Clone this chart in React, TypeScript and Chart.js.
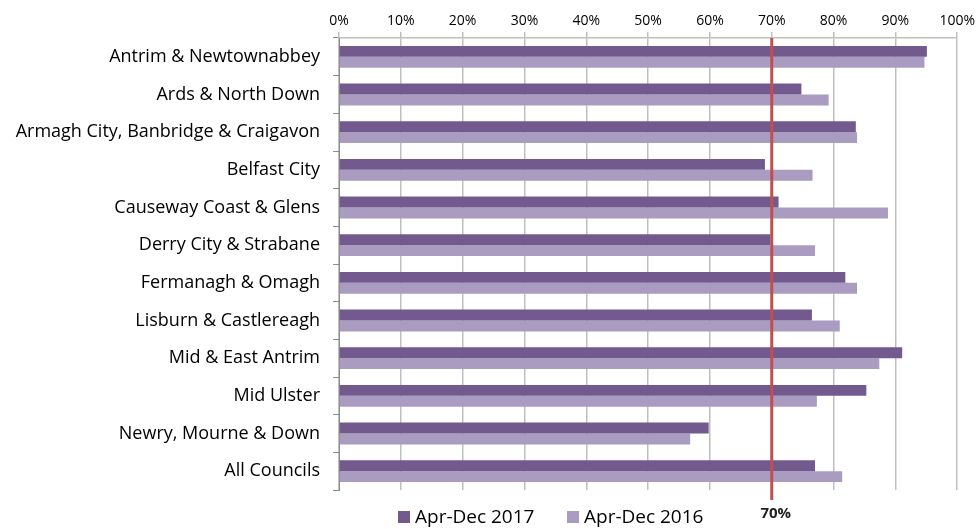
import React, { useEffect, useRef } from "react";
import { Chart, registerables } from "chart.js";

Chart.register(...registerables);

const categories = [
  "Antrim & Newtownabbey",
  "Ards & North Down",
  "Armagh City, Banbridge & Craigavon",
  "Belfast City",
  "Causeway Coast & Glens",
  "Derry City & Strabane",
  "Fermanagh & Omagh",
  "Lisburn & Castlereagh",
  "Mid & East Antrim",
  "Mid Ulster",
  "Newry, Mourne & Down",
  "All Councils",
];

const series2017 = [95.1, 74.8, 83.6, 68.9, 71.1, 69.8, 81.9, 76.5, 91.1, 85.3, 59.8, 77.0];
const series2016 = [94.7, 79.2, 83.8, 76.6, 88.8, 77.0, 83.8, 81.0, 87.4, 77.3, 56.8, 81.4];
const targetValue = 70;
const targetLabel = "70%";
const seriesLabels = ["Apr-Dec 2017", "Apr-Dec 2016"];

const DARK = "#725a8f";
const LIGHT = "#a99cc0";
const RED = "#c0504d";
const FONT = "'Open Sans', 'Noto Sans', sans-serif";

const overlayPlugin = {
  id: "overlay",
  afterDatasetsDraw(chart: any) {
    const { ctx, chartArea, scales } = chart;
    const x = scales.x.getPixelForValue(targetValue);
    ctx.save();
    ctx.strokeStyle = RED;
    ctx.lineWidth = 3;
    ctx.beginPath();
    ctx.moveTo(x, chartArea.top);
    ctx.lineTo(x, chartArea.bottom + 10);
    ctx.stroke();
    ctx.fillStyle = "#222";
    ctx.font = `bold 15px ${FONT}`;
    ctx.textAlign = "center";
    ctx.textBaseline = "middle";
    ctx.fillText(targetLabel, x + 4, 514);
    // legend
    const colors = [DARK, LIGHT];
    const starts = [398, 567];
    ctx.font = `19px ${FONT}`;
    ctx.textAlign = "left";
    for (let i = 0; i < 2; i++) {
      ctx.fillStyle = colors[i];
      ctx.fillRect(starts[i], 511, 12, 12);
      ctx.fillStyle = "#000";
      ctx.fillText(seriesLabels[i], starts[i] + 17, 518);
    }
    ctx.restore();
  },
};

export default function App() {
  const ref = useRef<HTMLCanvasElement>(null);
  useEffect(() => {
    if (!ref.current) return;
    const chart = new Chart(ref.current, {
      type: "bar",
      data: {
        labels: categories,
        datasets: [
          {
            label: seriesLabels[0],
            data: series2017,
            backgroundColor: DARK,
            categoryPercentage: 0.58,
            barPercentage: 1.0,
          },
          {
            label: seriesLabels[1],
            data: series2016,
            backgroundColor: LIGHT,
            categoryPercentage: 0.58,
            barPercentage: 1.0,
          },
        ],
      },
      options: {
        indexAxis: "y",
        animation: false,
        responsive: false,
        maintainAspectRatio: false,
        layout: { padding: { left: 0, right: 18, top: 0, bottom: 39 } },
        plugins: {
          legend: { display: false },
          tooltip: { enabled: false },
        },
        scales: {
          x: {
            position: "top",
            min: 0,
            max: 100,
            ticks: {
              stepSize: 10,
              callback: (v: any) => v + "%",
              color: "#000",
              font: { family: FONT, size: 14 },
              padding: 3,
              maxRotation: 0,
            },
            grid: {
              color: "#bfbfbf",
              lineWidth: 1.5,
              tickLength: 6,
            },
            border: { color: "#bfbfbf", width: 1.5 },
            afterFit: (s: any) => {
              s.height = 38;
            },
          },
          y: {
            ticks: {
              color: "#000",
              font: { family: FONT, size: 18 },
              padding: 13,
            },
            grid: {
              drawOnChartArea: false,
              color: "#8c8c8c",
              tickLength: 6,
              offset: true,
            },
            border: { color: "#8c8c8c", width: 1 },
            afterFit: (s: any) => {
              s.width = 339;
            },
          },
        },
      },
      plugins: [overlayPlugin],
    });
    return () => chart.destroy();
  }, []);
  return (
    <div style={{ position: "fixed", left: 0, top: 0, width: 978, height: 529, background: "#fff" }}>
      <canvas ref={ref} width={978} height={529} />
    </div>
  );
}
